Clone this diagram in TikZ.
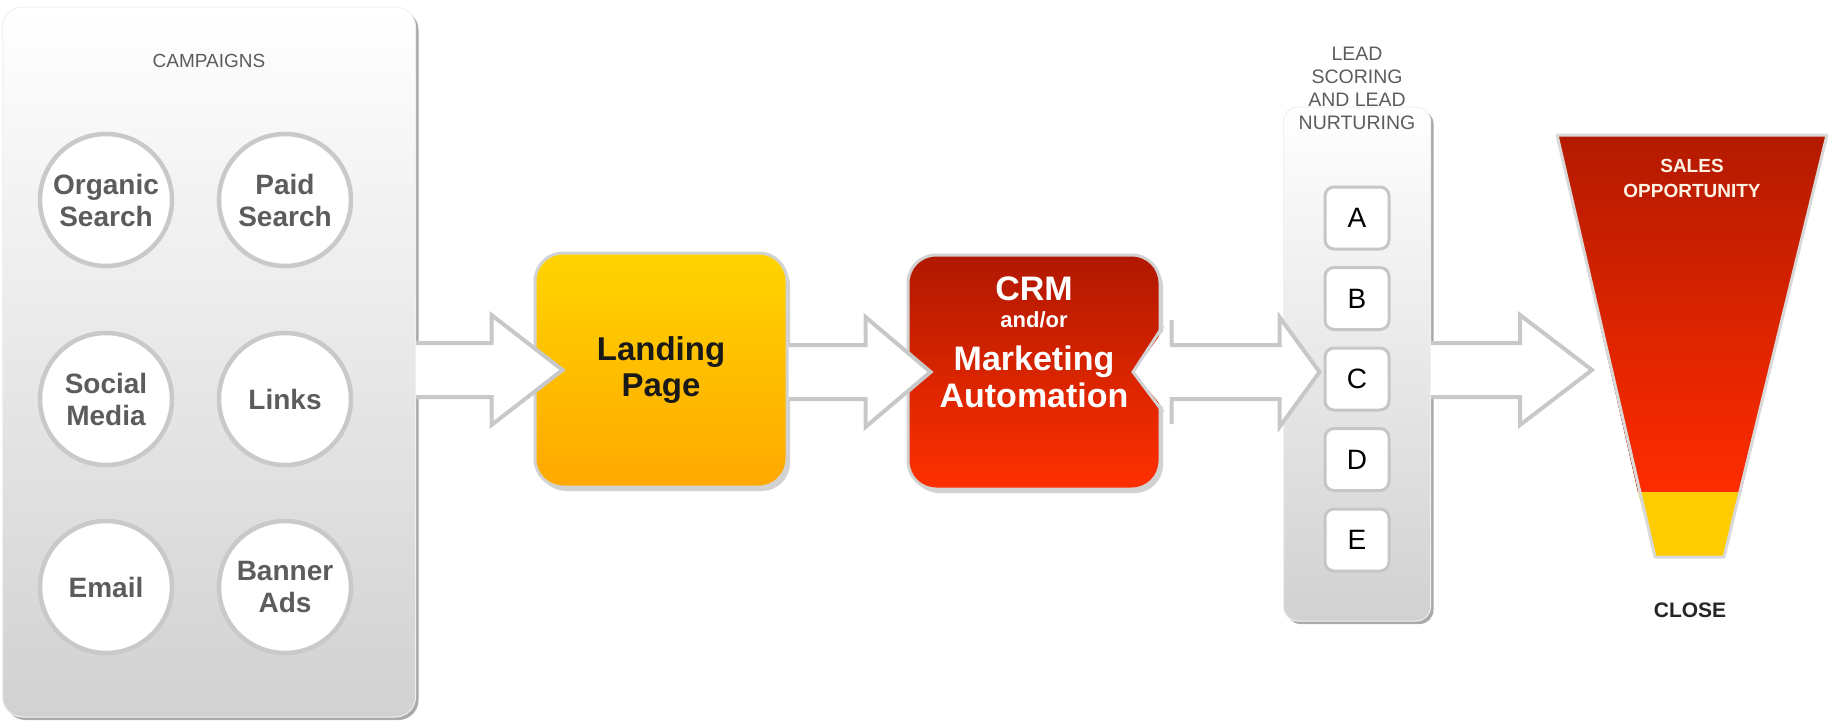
\documentclass[tikz,border=0pt]{standalone}
\usepackage{fontspec}
\setmainfont{Liberation Sans}
\usetikzlibrary{positioning,calc,shadows}

\definecolor{lpTop}{HTML}{FFD400}
\definecolor{lpBot}{HTML}{FFA800}
\definecolor{crmTop}{HTML}{B01800}
\definecolor{crmBot}{HTML}{FF3000}
\definecolor{funTop}{HTML}{B31A00}
\definecolor{funBot}{HTML}{FF2C00}
\definecolor{closeYel}{HTML}{FFCC00}
\definecolor{txtGray}{HTML}{5C5C5C}
\definecolor{arrGray}{HTML}{C8C8C8}

% hollow block arrow: tail, tip, head length, tail half height
\newcommand{\hollowarrow}[4]{%
  \draw[flow] let \p1=(#1), \p2=(#2) in
    (\x1,\y2+#4) -- (\x1,\y2+27pt) -- (\x2-#3,\y2+27pt) -- (\x2-#3,\y2+55pt) -- (\x2,\y2)
    -- (\x2-#3,\y2-55pt) -- (\x2-#3,\y2-27pt) -- (\x1,\y2-27pt) -- (\x1,\y2-#4);}

\begin{document}
\begin{tikzpicture}[x=1pt,y=-1pt,
  panel/.style={draw=gray!12,line width=1pt,rounded corners=20pt,top color=white,bottom color=gray!36,inner sep=0pt,
    drop shadow={shadow xshift=3pt,shadow yshift=-3pt,fill=gray!95,opacity=0.7}},
  campaign/.style={circle,draw=gray!42,line width=4.5pt,fill=white,minimum size=132pt,inner sep=0pt,align=center,
    text=txtGray,font=\fontsize{28}{32}\selectfont\bfseries},
  bigbox/.style={draw=gray!35,line width=3pt,rounded corners=28pt,minimum width=252pt,minimum height=234pt,align=center,
    drop shadow={shadow xshift=3pt,shadow yshift=-4pt,fill=gray!70,opacity=0.5}},
  lettbox/.style={draw=gray!45,line width=3pt,fill=white,rounded corners=9pt,minimum width=64pt,minimum height=62pt,
    font=\fontsize{28}{32}\selectfont},
  caption/.style={text=txtGray,align=center},
  flow/.style={draw=arrGray,line width=4pt,fill=white,line join=miter}]

  \useasboundingbox (0,0) rectangle (1841,723);

  % campaigns
  \node[panel,minimum width=413pt,minimum height=710pt] (campaigns) at (209,362) {};
  \node[caption,font=\fontsize{19}{22}\selectfont] (camptitle) at (209,61) {CAMPAIGNS};
  \foreach \name/\x/\y/\txt in {organic/106/200/{Organic\\Search}, paid/285/200/{Paid\\Search},
      social/106/399/{Social\\Media}, links/285/399/Links, email/106/587/Email, banner/285/587/{Banner\\Ads}}
    \node[campaign] (\name) at (\x,\y) {\txt};

  % landing page and crm
  \node[bigbox,top color=lpTop,bottom color=lpBot,text=black!90,font=\fontsize{33}{36}\selectfont\bfseries]
    (landing) at (661,370) {Landing\\Page};
  \node[bigbox,top color=crmTop,bottom color=crmBot] (crm) at (1034,372) {};
  \node[text=white,align=center,font=\fontsize{34}{38}\selectfont\bfseries] (crmtext) at (1034,342)
    {CRM\\[-11pt]{\fontsize{22}{24}\selectfont and/or}\\[5pt]Marketing\\[-1pt]Automation};
  \fill[white] (1167,326) -- (1133,372) -- (1167,412) -- cycle;
  \draw[gray!35,line width=3pt] (1163,326) -- (1133,372) -- (1163,412);

  % lead scoring
  \node[panel,rounded corners=14pt,minimum width=147pt,minimum height=514pt] (lead) at (1357,364) {};
  \node[caption,font=\fontsize{19.5}{23}\selectfont] (leadtitle) at (1357,88) {LEAD\\SCORING\\AND LEAD\\NURTURING};
  \foreach \l [count=\i from 0] in {A,B,C,D,E}
    \node[lettbox] (\l) at (1357,218+80.5*\i) {\l};

  % funnel
  \fill[top color=funTop,bottom color=funBot] (1557,135) -- (1827,135) -- (1741,492) -- (1638,492) -- cycle;
  \fill[closeYel] (1638,492) -- (1741,492) -- (1724,557) -- (1655,557) -- cycle;
  \draw[gray!30,line width=3pt,line join=round] (1557,135) -- (1827,135) -- (1724,557) -- (1655,557) -- cycle;
  \node[text=white!90!orange,align=center,font=\fontsize{19}{25}\selectfont\bfseries] (sales) at (1692,178) {SALES\\OPPORTUNITY};
  \node[font=\fontsize{21}{24}\selectfont\bfseries,text=black!85] (close) at (1690,610) {CLOSE};

  % connectors
  \coordinate (tip1) at ([xshift=29pt]landing.west);
  \coordinate (tip2) at ([xshift=24pt]crm.west);
  \coordinate (tip3) at ([xshift=-4pt]C.west |- crm.east);
  \coordinate (tail3) at ([xshift=10pt]crm.east);
  \coordinate (tip4) at (1592,370);
  \hollowarrow{campaigns.east}{tip1}{71pt}{27pt}
  \hollowarrow{landing.east}{tip2}{65pt}{27pt}
  \hollowarrow{tail3}{tip3}{40pt}{52pt}
  \hollowarrow{lead.east}{tip4}{72pt}{27pt}
\end{tikzpicture}
\end{document}
